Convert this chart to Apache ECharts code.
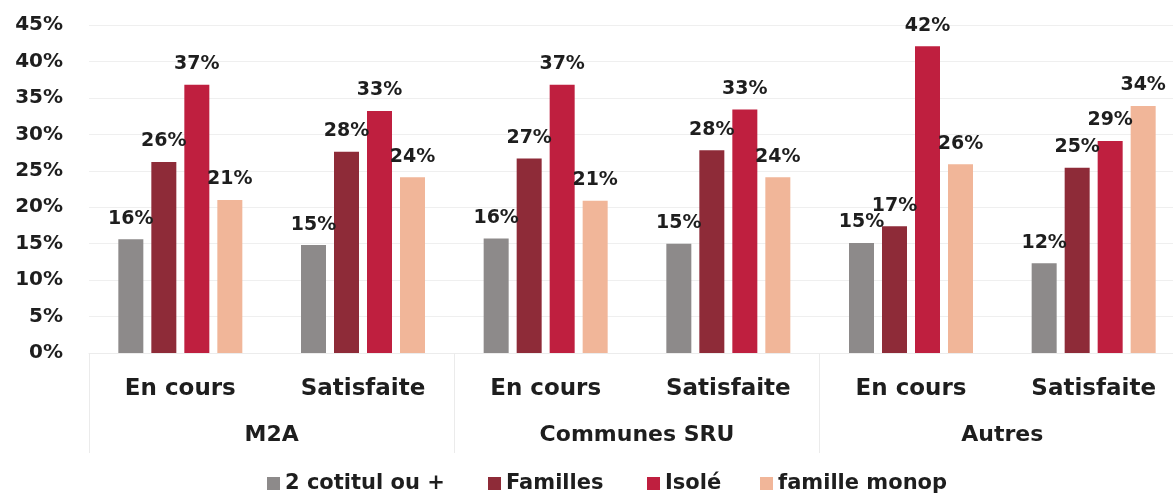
<!DOCTYPE html>
<html>
<head>
<meta charset="utf-8">
<title>Demandes par type de ménage</title>
<script src="https://cdn.jsdelivr.net/npm/echarts@6/dist/echarts.min.js"></script>
<style>
  html, body { margin: 0; padding: 0; background: #fff; overflow: hidden; }
  /* the last group runs past the right edge in the original, so the canvas is wider than the window */
  #chart { width: 1200px; height: 497px; }
</style>
</head>
<body>
<div id="chart"></div>
<script>
// categories
const statuts = ['En cours', 'Satisfaite', 'En cours', 'Satisfaite', 'En cours', 'Satisfaite']
const territoires = ['M2A', 'Communes SRU', 'Autres']

// values in %
const cotitul = [15.6, 14.8, 15.7, 15.0, 15.1, 12.3]
const familles = [26.2, 27.6, 26.7, 27.8, 17.4, 25.4]
const isole = [36.8, 33.2, 36.8, 33.4, 42.1, 29.1]
const monop = [21.0, 24.1, 20.9, 24.1, 25.9, 33.9]

const seriesNames = ['2 cotitul ou +', 'Familles', 'Isolé', 'famille monop']
const colors = ['#8d8a8a', '#8e2b38', '#bf1f3f', '#f1b699']
const legendLeft = [262, 483, 642, 755]

const font = 'DejaVu Sans'
const ink = '#1e1e1e'

const chart = echarts.init(document.getElementById('chart'), null, { renderer: 'canvas' })

const makeSeries = (name, data, color) => ({
  name: name,
  type: 'bar',
  data: data,
  barWidth: 25,
  barGap: '32%',
  itemStyle: { color: color },
  label: {
    show: true,
    position: 'top',
    distance: 11,
    color: ink,
    fontFamily: font,
    fontWeight: 'bold',
    fontSize: 19,
    formatter: (p) => Math.round(p.value) + '%'
  }
})

// one legend per item so each can sit where it sits in the original
const legends = seriesNames.map((name, i) => ({
  left: legendLeft[i],
  top: 468,
  itemWidth: 13,
  itemHeight: 13,
  icon: 'rect',
  textStyle: { color: ink, fontFamily: font, fontWeight: 'bold', fontSize: 21 },
  data: [name]
}))

const option = {
  backgroundColor: '#fff',
  animation: false,
  textStyle: { fontFamily: font },
  color: colors,
  grid: { left: 89, top: 25, width: 1096, height: 328 },
  legend: legends,
  xAxis: [
    {
      type: 'category',
      data: statuts,
      axisLine: { show: true, lineStyle: { color: '#ececec' } },
      axisTick: { show: false },
      axisLabel: {
        interval: 0,
        margin: 25,
        color: ink,
        fontFamily: font,
        fontWeight: 'bold',
        fontSize: 23
      }
    },
    {
      type: 'category',
      data: territoires,
      position: 'bottom',
      axisLine: { show: false },
      axisTick: { show: true, interval: 0, length: 100, lineStyle: { color: '#ebebeb' } },
      axisLabel: {
        interval: 0,
        margin: 71,
        color: ink,
        fontFamily: font,
        fontWeight: 'bold',
        fontSize: 22
      }
    }
  ],
  yAxis: {
    type: 'value',
    min: 0,
    max: 45,
    interval: 5,
    axisLine: { show: false },
    axisTick: { show: false },
    splitLine: { lineStyle: { color: '#efefef' } },
    axisLabel: {
      margin: 26,
      padding: [8, 0, 0, 0],
      color: ink,
      fontFamily: font,
      fontWeight: 'bold',
      fontSize: 20,
      formatter: '{value}%'
    }
  },
  series: [
    makeSeries(seriesNames[0], cotitul, colors[0]),
    makeSeries(seriesNames[1], familles, colors[1]),
    makeSeries(seriesNames[2], isole, colors[2]),
    makeSeries(seriesNames[3], monop, colors[3])
  ]
}

chart.setOption(option)
window.addEventListener('resize', chart.resize)
</script>
</body>
</html>
